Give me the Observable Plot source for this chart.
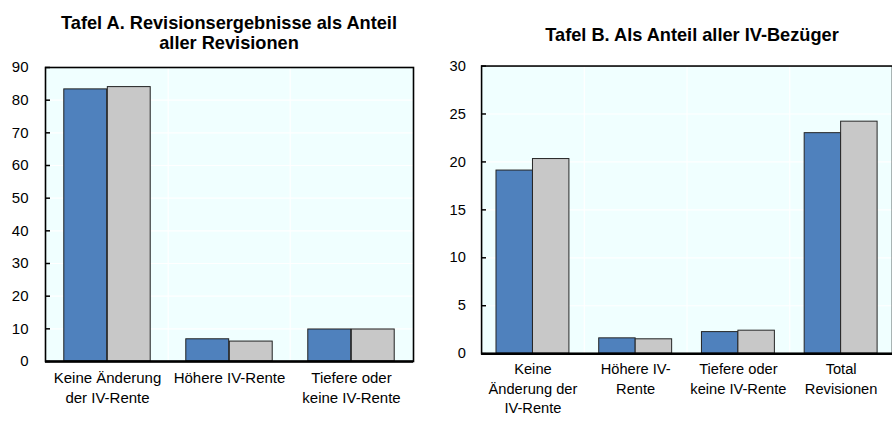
<!DOCTYPE html>
<html>
<head>
<meta charset="utf-8">
<script src="https://cdn.jsdelivr.net/npm/d3@7"></script>
<script src="https://cdn.jsdelivr.net/npm/@observablehq/plot@0.6"></script>
<style>
  html, body { margin: 0; padding: 0; background: #fff; overflow: hidden; }
  #wrap { position: relative; width: 892px; height: 425px; overflow: hidden; font-family: "Liberation Sans", Arial, sans-serif; }
  .title { position: absolute; text-align: center; font-weight: bold; font-size: 18.2px; line-height: 20px; color: #000; }
  .panel { position: absolute; top: 0; }
</style>
</head>
<body>
<div id="wrap">
  <div class="title" id="tA" style="left:45px; width:368px; top:13px;"></div>
  <div class="title" id="tB" style="left:482px; width:420px; top:25px;"></div>
  <div class="panel" id="pA" style="left:0px;"></div>
  <div class="panel" id="pB" style="left:440px;"></div>
</div>
<script>
// ---- Data ----
const titleA = "Tafel A. Revisionsergebnisse als Anteil\naller Revisionen";
const titleB = "Tafel B. Als Anteil aller IV-Bezüger";

const catsA = ["Keine Änderung der IV-Rente", "Höhere IV-Rente", "Tiefere oder keine IV-Rente"];
const labelsA = ["Keine Änderung\nder IV-Rente", "Höhere IV-Rente", "Tiefere oder\nkeine IV-Rente"];
const series1A = [83.3, 6.8, 9.8];
const series2A = [84.0, 6.1, 9.8];
const ticksA = [0, 10, 20, 30, 40, 50, 60, 70, 80, 90];

const catsB = ["Keine Änderung der IV-Rente", "Höhere IV-Rente", "Tiefere oder keine IV-Rente", "Total Revisionen"];
const labelsB = ["Keine\nÄnderung der\nIV-Rente", "Höhere IV-\nRente", "Tiefere oder\nkeine IV-Rente", "Total\nRevisionen"];
const series1B = [19.1, 1.6, 2.25, 23.0];
const series2B = [20.3, 1.5, 2.4, 24.2];
const ticksB = [0, 5, 10, 15, 20, 25, 30];

const colors = ["#4F81BD", "#C8C8C8"];
const bg = "#F0FFFF";

function panel({cats, labels, s1, s2, ticks, width, ml, mr, tickPad}) {
  const bw = (width - ml - mr) / cats.length;
  const group = 0.71 * bw;
  const side = (bw - group) / 2;
  const barW = group / 2;
  const rows = cats.map((c, i) => ({cat: c, v1: s1[i], v2: s2[i]}));
  const labelOf = new Map(cats.map((c, i) => [c, labels[i]]));
  return Plot.plot({
    width, height: 425,
    marginLeft: ml, marginRight: mr, marginTop: 67, marginBottom: 64,
    x: {domain: cats, padding: 0, axis: null, label: null},
    y: {domain: [ticks[0], ticks[ticks.length - 1]], axis: null, label: null},
    style: {fontFamily: '"Liberation Sans", Arial, sans-serif', fontSize: "15px", color: "#000", background: "transparent", overflow: "visible"},
    marks: [
      Plot.frame({fill: bg, stroke: null}),
      Plot.gridY(ticks, {stroke: "white", strokeOpacity: 1, strokeWidth: 1.2}),
      Plot.ruleX(cats.slice(1), {x: d => d, dx: -bw / 2, stroke: "white", strokeOpacity: 1, strokeWidth: 1.2}),
      Plot.barY(rows, {x: "cat", y: "v1", fill: colors[0], stroke: "#222", strokeWidth: 1, insetLeft: side, insetRight: side + barW}),
      Plot.barY(rows, {x: "cat", y: "v2", fill: colors[1], stroke: "#222", strokeWidth: 1, insetLeft: side + barW, insetRight: side}),
      Plot.frame({stroke: "#000", strokeWidth: 1.6}),
      Plot.ruleY([0], {stroke: "#000", strokeWidth: 2.5}),
      Plot.axisY(ticks, {tickSize: 0, tickPadding: tickPad, tickFormat: d => String(d), label: null}),
      Plot.axisY(ticks, {tickSize: 5, dx: 5, tickFormat: () => "", stroke: "#000", strokeWidth: 1.5, label: null}),
      Plot.axisX(cats, {tickSize: 0, tickPadding: 7, tickFormat: d => labelOf.get(d), lineHeight: 1.33, label: null})
    ]
  });
}

document.getElementById("tA").innerHTML = titleA.replace("\n", "<br>");
document.getElementById("tB").textContent = titleB;

document.getElementById("pA").append(panel({
  cats: catsA, labels: labelsA, s1: series1A, s2: series2A, ticks: ticksA,
  width: 440, ml: 45, mr: 27, tickPad: 17
}));
document.getElementById("pB").append(panel({
  cats: catsB, labels: labelsB, s1: series1B, s2: series2B, ticks: ticksB,
  width: 462, ml: 42, mr: 0, tickPad: 16
}));
</script>
</body>
</html>
